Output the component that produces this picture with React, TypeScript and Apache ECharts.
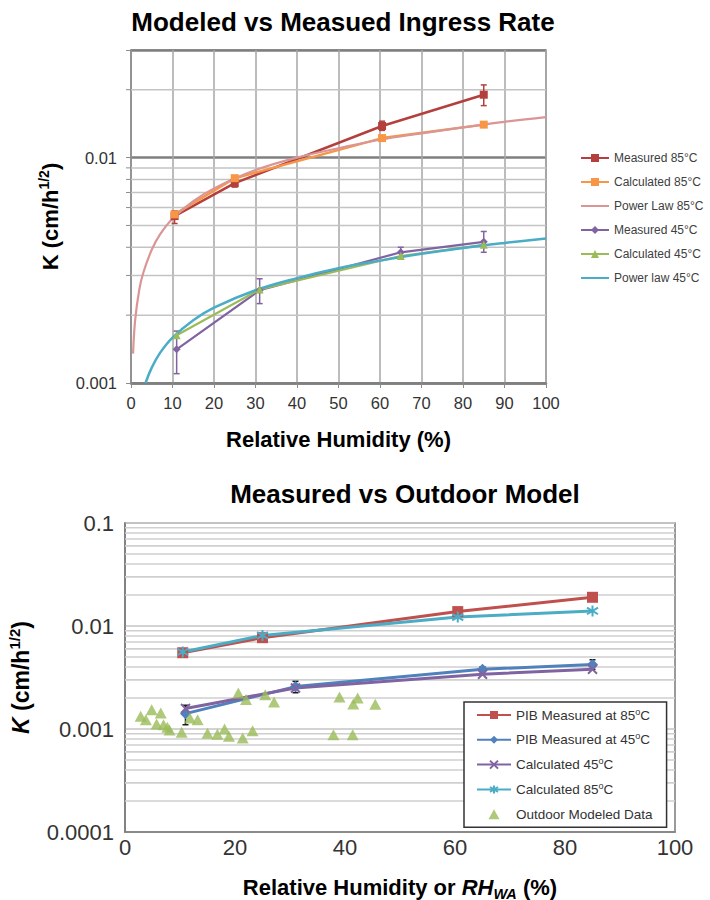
import React, { useEffect, useRef } from "react";
import * as echarts from "echarts";

const FONT = '"Liberation Sans", Arial, Helvetica, sans-serif';

// ---------- upper chart: modelled vs measured ingress rate ----------
const RH_85 = [10.5, 25, 60.5, 85];
const MEASURED_85 = [0.0055, 0.0077, 0.0138, 0.019];
const MEASURED_85_LOW = [0.0051, 0.0074, 0.0132, 0.017];
const MEASURED_85_HIGH = [0.0058, 0.008, 0.0145, 0.021];
const CALCULATED_85 = [0.0056, 0.0081, 0.0122, 0.014];

const RH_45 = [11, 31, 65, 85];
const MEASURED_45 = [0.00141, 0.00258, 0.0038, 0.00423];
const MEASURED_45_LOW = [0.0011, 0.00225, 0.0036, 0.0038];
const MEASURED_45_HIGH = [0.0017, 0.0029, 0.004, 0.0047];
const CALCULATED_45 = [0.00163, 0.0026, 0.00366, 0.0041];

const POWER_85_RH = [0.5, 1, 2, 3, 5, 7, 10, 15, 20, 30, 40, 50, 60, 70, 80, 90, 100];
const POWER_85 = [0.00135, 0.0019, 0.0026, 0.0031, 0.0039, 0.00456, 0.00535, 0.0064, 0.0073, 0.0088, 0.01, 0.011, 0.012, 0.0128, 0.0136, 0.0144, 0.0151];
const POWER_45_RH = [3.5, 5, 7, 10, 15, 20, 30, 40, 50, 60, 70, 80, 90, 100];
const POWER_45 = [0.001, 0.00117, 0.00136, 0.00159, 0.0019, 0.00216, 0.00258, 0.00292, 0.00323, 0.00349, 0.00374, 0.00397, 0.00418, 0.00438];

const TOP_Y_TICKS = ["0.001", "0.01"];
const TOP_MINOR = [0.002, 0.003, 0.004, 0.005, 0.006, 0.007, 0.008, 0.009, 0.02];

// ---------- lower chart: measured vs outdoor model ----------
const CALC_45_OUT = [0.00158, 0.0025, 0.0034, 0.0038];
const OUTDOOR_RH = [2.85, 3.8, 4.85, 5.75, 6.5, 7.0, 7.7, 8.1, 10.3, 11.8, 13.2, 15.0, 16.8, 18.1, 18.9, 20.6, 21.4, 22.0, 23.2, 25.5, 27.1, 37.9, 39.0, 41.4, 41.5, 42.3, 45.5];
const OUTDOOR_K = [0.00133, 0.00123, 0.00154, 0.00112, 0.00143, 0.0011, 0.00104, 0.00098, 0.00093, 0.00128, 0.00123, 0.00091, 0.00089, 0.001, 0.00085, 0.00224, 0.00082, 0.00193, 0.00096, 0.00215, 0.00183, 0.00088, 0.00205, 0.00088, 0.00175, 0.002, 0.00174];

const BOTTOM_Y_TICKS = ["0.0001", "0.001", "0.01", "0.1"];
const BOTTOM_MINOR = [
  0.0002, 0.0003, 0.0004, 0.0005, 0.0006, 0.0007, 0.0008, 0.0009,
  0.002, 0.003, 0.004, 0.005, 0.006, 0.007, 0.008, 0.009,
  0.02, 0.03, 0.04, 0.05, 0.06, 0.07, 0.08, 0.09,
];

const zip = (xs: number[], ys: number[]) => xs.map((x, i) => [x, ys[i]]);
const zip3 = (xs: number[], a: number[], b: number[]) => xs.map((x, i) => [x, a[i], b[i]]);

const logLabel = (ticks: string[]) => (v: number) => {
  const hit = ticks.find((t) => Math.abs(Math.log10(Number(t)) - Math.log10(v)) < 1e-6);
  return hit ?? "";
};

// vertical error bar with small caps
const errorBar = (color: string, width: number, cap: number) => (_p: any, api: any) => {
  const x = api.value(0);
  const lo = api.coord([x, api.value(1)]);
  const hi = api.coord([x, api.value(2)]);
  const style = { stroke: color, lineWidth: width };
  return {
    type: "group",
    children: [
      { type: "line", shape: { x1: lo[0], y1: lo[1], x2: hi[0], y2: hi[1] }, style },
      { type: "line", shape: { x1: lo[0] - cap, y1: lo[1], x2: lo[0] + cap, y2: lo[1] }, style },
      { type: "line", shape: { x1: hi[0] - cap, y1: hi[1], x2: hi[0] + cap, y2: hi[1] }, style },
    ],
  };
};

// horizontal minor gridline (2..9 within each decade), plus optional outside tick
const minorGrid = (xMin: number, xMax: number, color: string, width: number, tick: number) => (_p: any, api: any) => {
  const v = api.value(1);
  const a = api.coord([xMin, v]);
  const b = api.coord([xMax, v]);
  const children: any[] = [
    { type: "line", shape: { x1: a[0], y1: a[1], x2: b[0], y2: b[1] }, style: { stroke: color, lineWidth: width } },
  ];
  if (tick > 0) {
    children.push({ type: "line", shape: { x1: a[0] - tick, y1: a[1], x2: a[0], y2: a[1] }, style: { stroke: "#8c8c8c", lineWidth: 1 } });
  }
  return { type: "group", children };
};

const X_SYMBOL = "path://M0,0L10,10M10,0L0,10";
const STAR_SYMBOL = "path://M5,0L5,10M0,2L10,8M10,2L0,8";
const TRIANGLE_ICON = "path://M5,0L10,9L0,9Z";

const TOP_NAMES = ["Measured 85°C", "Calculated 85°C", "Power Law 85°C", "Measured 45°C", "Calculated 45°C", "Power law 45°C"];
const BOTTOM_NAMES = ["PIB Measured at 85oC", "PIB Measured at 45oC", "Calculated 45oC", "Calculated 85oC", "Outdoor Modeled Data"];
// trend-line entries show only their line in the legend
const LINE_ONLY = new Set([TOP_NAMES[2], TOP_NAMES[5]]);

const C = {
  meas85: "#B3403C",
  calc85: "#F79646",
  pow85: "#DA9694",
  purple: "#8064A2",
  green: "#9BBB59",
  cyan: "#4BACC6",
  red: "#C0504D",
  blue: "#4F81BD",
};

const nameStyle = (size: number, rich: any) => ({
  fontSize: size,
  fontWeight: "bold",
  color: "#000",
  fontFamily: FONT,
  lineHeight: size + 6,
  rich,
});

const option: any = {
  animation: false,
  backgroundColor: "#ffffff",
  textStyle: { fontFamily: FONT },
  title: [
    {
      text: "Modeled vs Measued Ingress Rate",
      left: 338,
      top: 4,
      textAlign: "center",
      textStyle: { fontSize: 26, fontWeight: "bold", color: "#000", fontFamily: FONT },
    },
    {
      text: "Measured vs Outdoor Model",
      left: 400,
      top: 476,
      textAlign: "center",
      textStyle: { fontSize: 26, fontWeight: "bold", color: "#000", fontFamily: FONT },
    },
  ],
  grid: [
    { left: 131, top: 50, width: 415, height: 333, show: true, borderColor: "#8c8c8c", borderWidth: 1.5, backgroundColor: "transparent", containLabel: false, outerBoundsMode: "none" },
    { left: 125, top: 523, width: 550, height: 309, show: true, borderColor: "#7a7a7a", borderWidth: 1.5, backgroundColor: "transparent", containLabel: false, outerBoundsMode: "none" },
  ],
  xAxis: [
    {
      gridIndex: 0,
      type: "value",
      min: 0,
      max: 100,
      interval: 10,
      axisLine: { show: true, onZero: false, lineStyle: { color: "#7f7f7f", width: 2.5 } },
      axisTick: { show: true, length: 5, lineStyle: { color: "#8c8c8c", width: 1 } },
      axisLabel: { fontSize: 16.5, color: "#333", margin: 11, fontFamily: FONT },
      splitLine: { show: true, lineStyle: { color: "#a6a6a6", width: 1.5 } },
      name: "Relative Humidity (%)",
      nameLocation: "middle",
      nameGap: 42,
      nameTextStyle: nameStyle(22, {}),
    },
    {
      gridIndex: 1,
      type: "value",
      min: 0,
      max: 100,
      interval: 20,
      axisLine: { show: true, onZero: false, lineStyle: { color: "#7a7a7a", width: 1.5 } },
      axisTick: { show: false },
      axisLabel: { fontSize: 22, color: "#333", margin: 4, fontFamily: FONT },
      splitLine: { show: false },
      name: "Relative Humidity or {i|RH}{sub|WA} (%)",
      nameLocation: "middle",
      nameGap: 41,
      nameTextStyle: nameStyle(22, {
        i: { fontSize: 22, fontWeight: "bold", fontStyle: "italic", fontFamily: FONT, color: "#000" },
        sub: { fontSize: 14.5, fontWeight: "bold", fontStyle: "italic", fontFamily: FONT, color: "#000", verticalAlign: "bottom", lineHeight: 14 },
      }),
    },
  ],
  yAxis: [
    {
      gridIndex: 0,
      type: "log",
      logBase: 10,
      min: 0.001,
      max: 0.03,
      axisLine: { show: true, onZero: false, lineStyle: { color: "#8c8c8c", width: 1.5 } },
      axisTick: { show: true, length: 5, lineStyle: { color: "#8c8c8c", width: 1 } },
      axisLabel: { fontSize: 16.5, color: "#333", margin: 14, fontFamily: FONT, formatter: logLabel(TOP_Y_TICKS) },
      splitLine: { show: true, lineStyle: { color: "#7f7f7f", width: 2.5 } },
      name: "K (cm/h{sup|1/2})",
      nameLocation: "middle",
      nameRotate: 90,
      nameGap: 63,
      nameTextStyle: nameStyle(22, {
        sup: { fontSize: 14, fontWeight: "bold", fontFamily: FONT, color: "#000", verticalAlign: "top", lineHeight: 14 },
      }),
    },
    {
      gridIndex: 1,
      type: "log",
      logBase: 10,
      min: 0.0001,
      max: 0.1,
      axisLine: { show: true, onZero: false, lineStyle: { color: "#7a7a7a", width: 1.5 } },
      axisTick: { show: false },
      axisLabel: { fontSize: 22, color: "#333", margin: 11, fontFamily: FONT, formatter: logLabel(BOTTOM_Y_TICKS) },
      splitLine: { show: true, lineStyle: { color: "#c4c4c4", width: 1.5 } },
      name: "{i|K} (cm/h{sup|1/2})",
      nameLocation: "middle",
      nameRotate: 90,
      nameGap: 85,
      nameTextStyle: nameStyle(23, {
        i: { fontSize: 23, fontWeight: "bold", fontStyle: "italic", fontFamily: FONT, color: "#000" },
        sup: { fontSize: 15, fontWeight: "bold", fontFamily: FONT, color: "#000", verticalAlign: "top", lineHeight: 15 },
      }),
    },
  ],
  legend: [
    {
      data: TOP_NAMES.map((name) =>
        LINE_ONLY.has(name) ? { name, itemStyle: { opacity: 0 } } : { name }
      ),
      orient: "vertical",
      left: 580,
      top: 151,
      padding: 0,
      itemGap: 10,
      itemWidth: 28,
      itemHeight: 10,
      selectedMode: false,
      textStyle: { fontSize: 12, lineHeight: 14, color: "#404040", fontFamily: FONT },
    },
    {
      data: BOTTOM_NAMES.map((name, i) =>
        i === BOTTOM_NAMES.length - 1 ? { name, icon: TRIANGLE_ICON } : { name }
      ),
      orient: "vertical",
      left: 464,
      top: 702,
      padding: [5, 14, 5, 12],
      itemGap: 8.8,
      itemWidth: 34,
      itemHeight: 10,
      symbolKeepAspect: true,
      selectedMode: false,
      backgroundColor: "#ffffff",
      borderColor: "#333333",
      borderWidth: 1.5,
      formatter: (name: string) => name.replace(/(\d+)oC$/, "$1{sup|o}C"),
      textStyle: {
        fontSize: 13.5,
        lineHeight: 16,
        color: "#333",
        fontFamily: FONT,
        rich: { sup: { fontSize: 9, lineHeight: 9, verticalAlign: "top", color: "#333", fontFamily: FONT } },
      },
    },
  ],
  series: [
    // minor gridlines
    {
      type: "custom",
      xAxisIndex: 0,
      yAxisIndex: 0,
      silent: true,
      z: 1,
      encode: { x: 0, y: 1 },
      data: TOP_MINOR.map((v) => [0, v]),
      renderItem: minorGrid(0, 100, "#c3c3c3", 1.5, 5),
    },
    {
      type: "custom",
      xAxisIndex: 1,
      yAxisIndex: 1,
      silent: true,
      z: 1,
      encode: { x: 0, y: 1 },
      data: BOTTOM_MINOR.map((v) => [0, v]),
      renderItem: minorGrid(0, 100, "#cfcfcf", 1.6, 0),
    },

    // upper chart
    {
      name: TOP_NAMES[0],
      type: "line",
      xAxisIndex: 0,
      yAxisIndex: 0,
      data: zip(RH_85, MEASURED_85),
      symbol: "rect",
      symbolSize: 8,
      color: C.meas85,
      itemStyle: { color: C.meas85 },
      lineStyle: { width: 2.5, color: C.meas85 },
      z: 3,
    },
    {
      type: "custom",
      xAxisIndex: 0,
      yAxisIndex: 0,
      silent: true,
      z: 3,
      encode: { x: 0, y: [1, 2] },
      data: zip3(RH_85, MEASURED_85_LOW, MEASURED_85_HIGH),
      renderItem: errorBar(C.meas85, 1.5, 3),
    },
    {
      name: TOP_NAMES[1],
      type: "line",
      xAxisIndex: 0,
      yAxisIndex: 0,
      data: zip(RH_85, CALCULATED_85),
      symbol: "rect",
      symbolSize: 8,
      color: C.calc85,
      itemStyle: { color: C.calc85 },
      lineStyle: { width: 2.5, color: C.calc85 },
      z: 3,
    },
    {
      name: TOP_NAMES[2],
      type: "line",
      xAxisIndex: 0,
      yAxisIndex: 0,
      data: zip(POWER_85_RH, POWER_85),
      smooth: 0.4,
      symbol: "none",
      showSymbol: false,
      color: C.pow85,
      lineStyle: { width: 2.2, color: C.pow85 },
      z: 3,
    },
    {
      name: TOP_NAMES[3],
      type: "line",
      xAxisIndex: 0,
      yAxisIndex: 0,
      data: zip(RH_45, MEASURED_45),
      symbol: "diamond",
      symbolSize: 8,
      color: C.purple,
      itemStyle: { color: C.purple },
      lineStyle: { width: 2.2, color: C.purple },
      z: 3,
    },
    {
      type: "custom",
      xAxisIndex: 0,
      yAxisIndex: 0,
      silent: true,
      z: 3,
      encode: { x: 0, y: [1, 2] },
      data: zip3(RH_45, MEASURED_45_LOW, MEASURED_45_HIGH),
      renderItem: errorBar(C.purple, 1.5, 3),
    },
    {
      name: TOP_NAMES[4],
      type: "line",
      xAxisIndex: 0,
      yAxisIndex: 0,
      data: zip(RH_45, CALCULATED_45),
      symbol: "triangle",
      symbolSize: 8,
      color: C.green,
      itemStyle: { color: C.green },
      lineStyle: { width: 2.2, color: C.green },
      z: 3,
    },
    {
      name: TOP_NAMES[5],
      type: "line",
      xAxisIndex: 0,
      yAxisIndex: 0,
      data: zip(POWER_45_RH, POWER_45),
      smooth: 0.4,
      symbol: "none",
      showSymbol: false,
      color: C.cyan,
      lineStyle: { width: 2.5, color: C.cyan },
      z: 3,
    },

    // lower chart
    {
      name: BOTTOM_NAMES[0],
      type: "line",
      xAxisIndex: 1,
      yAxisIndex: 1,
      data: zip(RH_85, MEASURED_85),
      symbol: "rect",
      symbolSize: 11,
      color: C.red,
      itemStyle: { color: C.red },
      lineStyle: { width: 3, color: C.red },
      z: 3,
    },
    {
      name: BOTTOM_NAMES[1],
      type: "line",
      xAxisIndex: 1,
      yAxisIndex: 1,
      data: zip(RH_45, MEASURED_45),
      symbol: "diamond",
      symbolSize: 11,
      color: C.blue,
      itemStyle: { color: C.blue },
      lineStyle: { width: 3, color: C.blue },
      z: 3,
    },
    {
      name: BOTTOM_NAMES[2],
      type: "line",
      xAxisIndex: 1,
      yAxisIndex: 1,
      data: zip(RH_45, CALC_45_OUT),
      symbol: X_SYMBOL,
      symbolSize: 9,
      color: C.purple,
      itemStyle: { color: C.purple, borderColor: C.purple, borderWidth: 2 },
      lineStyle: { width: 3, color: C.purple },
      z: 3,
    },
    {
      type: "custom",
      xAxisIndex: 1,
      yAxisIndex: 1,
      silent: true,
      z: 3,
      encode: { x: 0, y: [1, 2] },
      data: zip3(RH_45, MEASURED_45_LOW, MEASURED_45_HIGH),
      renderItem: errorBar("#1a1a1a", 1.5, 3),
    },
    {
      name: BOTTOM_NAMES[3],
      type: "line",
      xAxisIndex: 1,
      yAxisIndex: 1,
      data: zip(RH_85, CALCULATED_85),
      symbol: STAR_SYMBOL,
      symbolSize: 11,
      color: C.cyan,
      itemStyle: { color: C.cyan, borderColor: C.cyan, borderWidth: 2 },
      lineStyle: { width: 3, color: C.cyan },
      z: 3,
    },
    {
      name: BOTTOM_NAMES[4],
      type: "scatter",
      xAxisIndex: 1,
      yAxisIndex: 1,
      data: zip(OUTDOOR_RH, OUTDOOR_K),
      symbol: "triangle",
      symbolSize: [12, 11],
      color: C.green,
      itemStyle: { color: C.green },
      z: 4,
    },
  ],
};

export default function App() {
  const ref = useRef<HTMLDivElement>(null);
  useEffect(() => {
    if (!ref.current) return;
    const chart = echarts.init(ref.current, null, { renderer: "svg" });
    chart.setOption(option);
    return () => chart.dispose();
  }, []);
  return (
    <div
      ref={ref}
      style={{ position: "absolute", left: 0, top: 0, width: 710, height: 900, background: "#fff" }}
    />
  );
}
